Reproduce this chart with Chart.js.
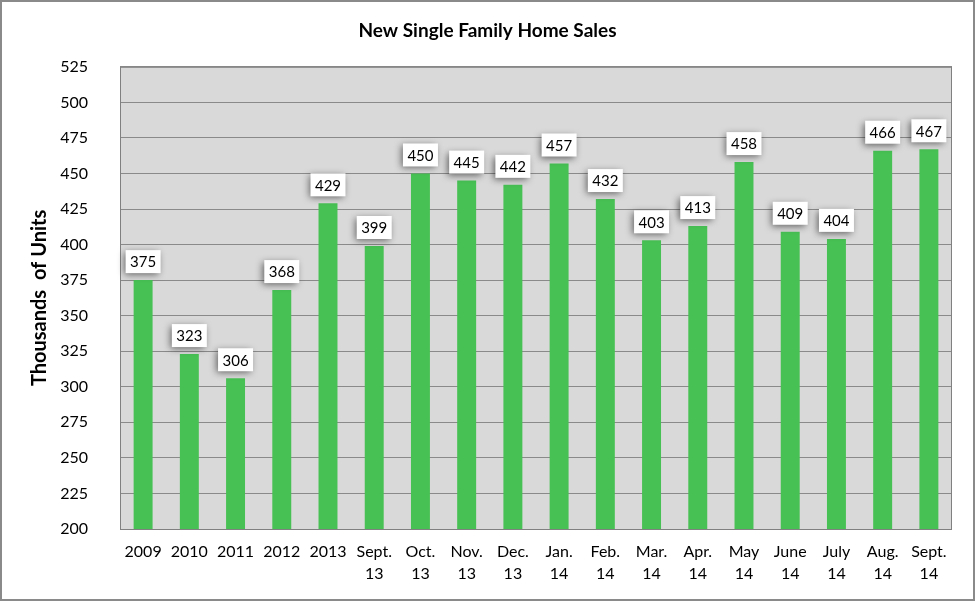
<!DOCTYPE html>
<html>
<head>
<meta charset="utf-8">
<script src="https://cdn.jsdelivr.net/npm/chart.js@4"></script>
<style>
    body { margin: 0; background: #fff; }
    canvas { display: block; }
</style>
</head>
<body>
<canvas id="sales-chart" width="975" height="601"></canvas>
<script>
const categories = [
    '2009', '2010', '2011', '2012', '2013',
    ['Sept.', '13'], ['Oct.', '13'], ['Nov.', '13'], ['Dec.', '13'],
    ['Jan.', '14'], ['Feb.', '14'], ['Mar.', '14'], ['Apr.', '14'],
    ['May', '14'], ['June', '14'], ['July', '14'], ['Aug.', '14'], ['Sept.', '14']
];
const salesValues = [375, 323, 306, 368, 429, 399, 450, 445, 442, 457, 432, 403, 413, 458, 409, 404, 466, 467];
const yMin = 200;
const yMax = 525;
const yStep = 25;

const fontFamily = 'Lato, "Open Sans", sans-serif';

// white background, outer frame and plot background
const framePlugin = {
    id: 'frame',
    beforeDraw(chart) {
        const ctx = chart.ctx;
        const area = chart.chartArea;
        ctx.save();
        ctx.fillStyle = '#ffffff';
        ctx.fillRect(0, 0, chart.width, chart.height);
        ctx.strokeStyle = '#8a8a8a';
        ctx.lineWidth = 2;
        ctx.strokeRect(1, 1, chart.width - 2, chart.height - 2);
        ctx.fillStyle = '#d9d9d9';
        ctx.fillRect(area.left, area.top, area.right - area.left, area.bottom - area.top);
        ctx.restore();
    },
    afterDatasetsDraw(chart) {
        const ctx = chart.ctx;
        const area = chart.chartArea;
        ctx.save();
        ctx.strokeStyle = '#808080';
        ctx.lineWidth = 1;
        ctx.strokeRect(area.left + 0.5, area.top + 0.5, area.right - area.left - 1, area.bottom - area.top);
        ctx.restore();
    }
};

// value boxes above each bar
const valueBoxPlugin = {
    id: 'valueBoxes',
    afterDatasetsDraw(chart) {
        const ctx = chart.ctx;
        const meta = chart.getDatasetMeta(0);
        ctx.save();
        ctx.font = '15px ' + fontFamily;
        ctx.textAlign = 'center';
        ctx.textBaseline = 'middle';
        meta.data.forEach((bar, i) => {
            const w = 35, h = 23;
            const x = bar.x - w / 2;
            const y = bar.y - 7 - h;
            ctx.save();
            ctx.shadowColor = 'rgba(0, 0, 0, 0.55)';
            ctx.shadowBlur = 7;
            ctx.shadowOffsetX = -2;
            ctx.shadowOffsetY = 2;
            ctx.fillStyle = '#ffffff';
            ctx.fillRect(x, y, w, h);
            ctx.restore();
            ctx.fillStyle = '#000000';
            ctx.fillText(String(salesValues[i]), bar.x, y + h / 2 + 1);
        });
        ctx.restore();
    }
};

const ctx = document.getElementById('sales-chart').getContext('2d');
const salesChart = new Chart(ctx, {
    type: 'bar',
    data: {
        labels: categories,
        datasets: [{
            label: 'New Single Family Home Sales',
            data: salesValues,
            backgroundColor: '#47c153',
            borderWidth: 0,
            barPercentage: 0.41,
            categoryPercentage: 1.0
        }]
    },
    options: {
        responsive: false,
        animation: false,
        layout: {
            padding: { top: 0, right: 0, bottom: 0, left: 0 }
        },
        plugins: {
            legend: { display: false },
            tooltip: { enabled: false },
            title: {
                display: true,
                text: 'New Single Family Home Sales',
                color: '#000000',
                font: { family: fontFamily, size: 19, weight: 'bold' },
                padding: { top: 19, bottom: 25 }
            }
        },
        scales: {
            x: {
                grid: { display: false, drawTicks: false },
                border: { display: false },
                ticks: {
                    color: '#000000',
                    font: { family: fontFamily, size: 16, lineHeight: 1.35 },
                    padding: 12,
                    maxRotation: 0,
                    autoSkip: false
                },
                afterFit(scale) { scale.height = 72; }
            },
            y: {
                min: yMin,
                max: yMax,
                grid: { color: '#8a8a8a', drawTicks: false },
                border: { display: false },
                ticks: {
                    stepSize: yStep,
                    color: '#000000',
                    font: { family: fontFamily, size: 16 },
                    padding: 32
                },
                title: {
                    display: true,
                    text: 'Thousands  of Units',
                    color: '#000000',
                    font: { family: fontFamily, size: 20, weight: 'bold' },
                    padding: { top: 28, bottom: 0 }
                },
                afterFit(scale) { scale.width = 120; }
            },
            // empty right margin so the title centres on the full width
            yRight: {
                position: 'right',
                min: yMin,
                max: yMax,
                grid: { display: false, drawTicks: false },
                border: { display: false },
                ticks: { display: false },
                afterFit(scale) { scale.width = 23; }
            }
        }
    },
    plugins: [framePlugin, valueBoxPlugin]
});
</script>
</body>
</html>
